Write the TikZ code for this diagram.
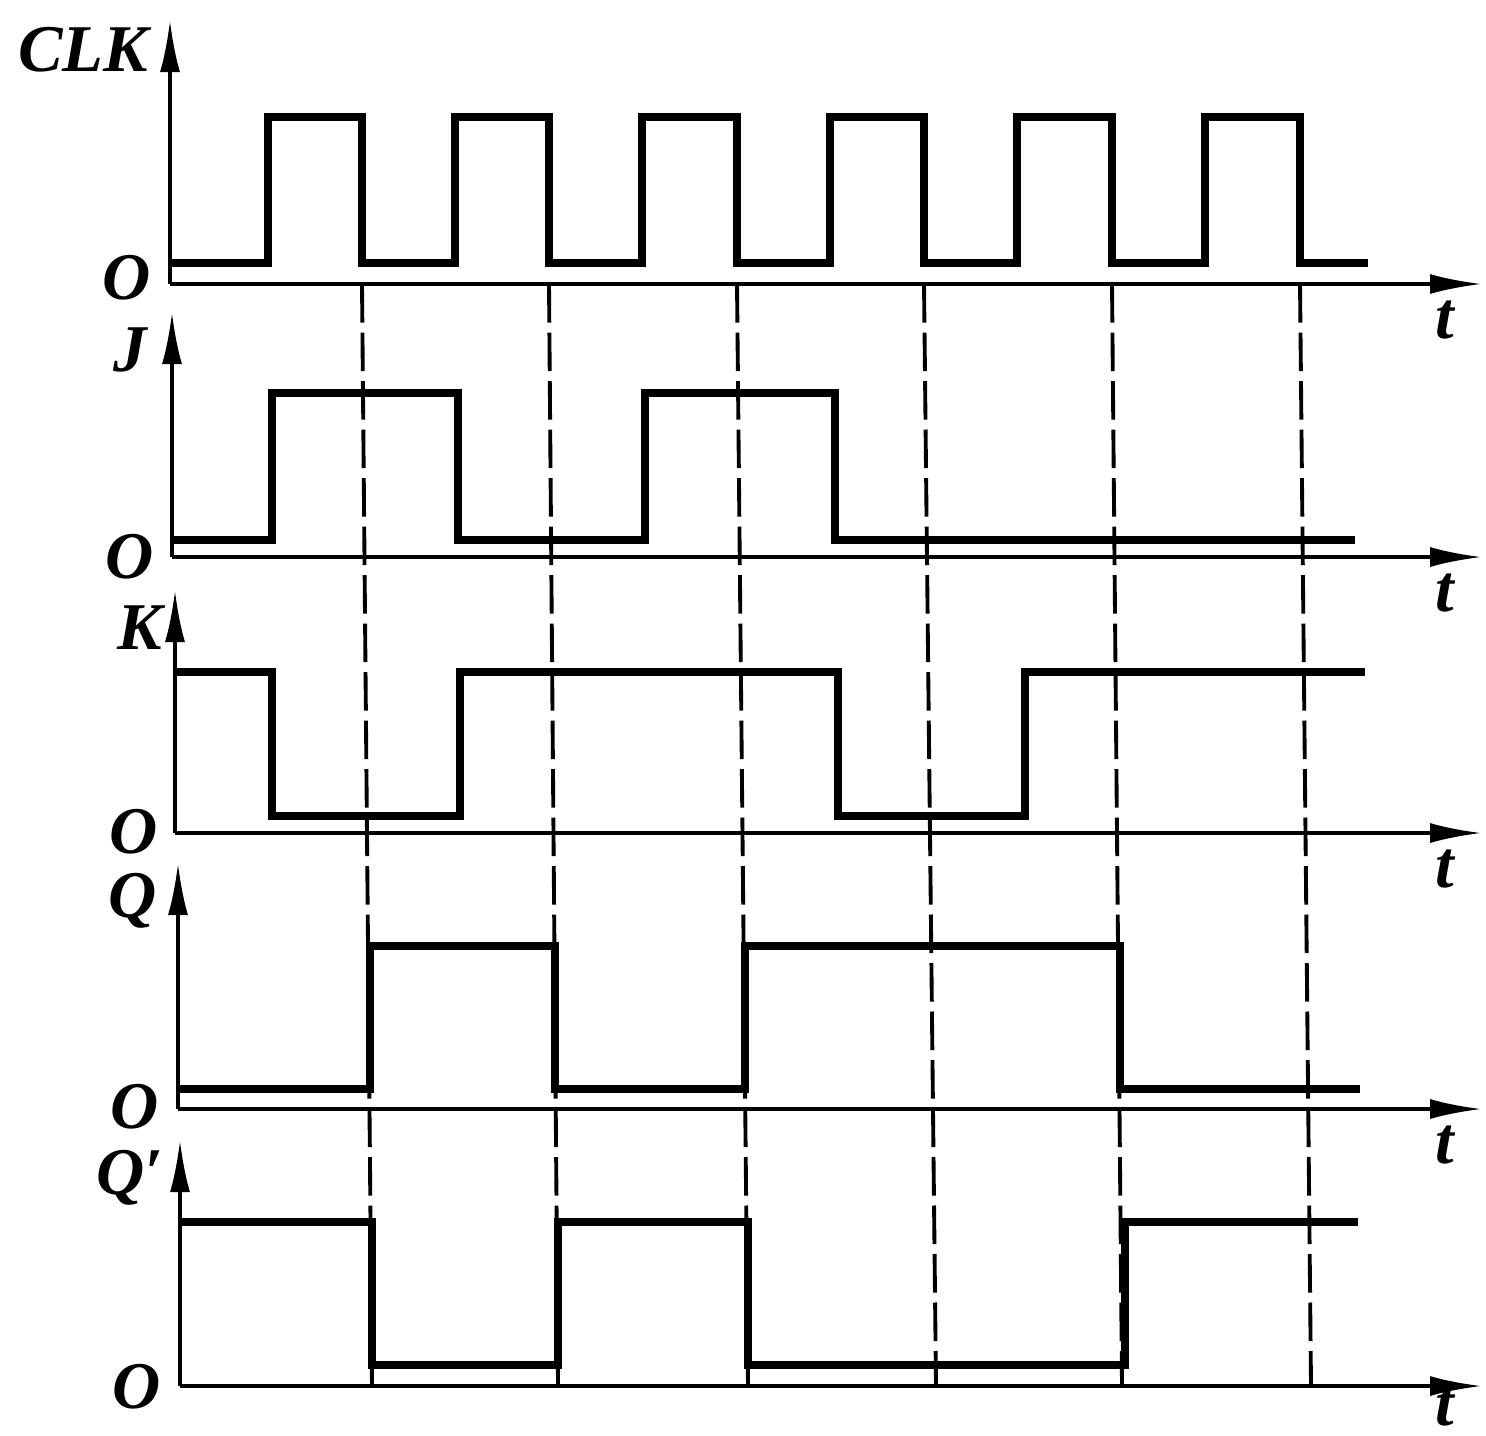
\documentclass[tikz,border=0pt]{standalone}
\usepackage{fontspec}
\setmainfont{Liberation Serif}
\usetikzlibrary{arrows.meta}

\begin{document}
\begin{tikzpicture}[x=0.1mm, y=-0.1mm,
  sig/.style={line width=2.3pt, line join=miter},
  axisline/.style={line width=1.1pt, -{Latex[length=5.2mm,width=2mm]}},
  guide/.style={line width=1.1pt, dash pattern=on 11pt off 2.8pt},
  lbl/.style={font=\fontsize{19}{23}\selectfont\bfseries\itshape,
              inner sep=0pt, anchor=base}]
  \useasboundingbox (0,0) rectangle (1486,1435);
  % axes of the five panels: name/origin x/origin y/top of the arrow
  \foreach \n/\x/\y/\top in {clk/170/284/20, j/172/557/312, k/175/833/590,
                             q/178/1109/863, qb/180/1386/1140} {
    \coordinate (o-\n) at (\x,\y);
    \coordinate (up-\n) at (\x,\top);
    \coordinate (end-\n) at (1482,\y);
    \draw[axisline] (o-\n) -- (up-\n);
    \draw[axisline] (o-\n) -- (end-\n);
  }
  \foreach \n/\ty in {clk/338, j/611, k/887, q/1163, qb/1425}
    \node[lbl] (t-\n) at (1445,\ty) {t};
  % dashed guides at the falling clock edges
  \foreach \a/\b in {362/372, 549/558, 737/748, 924/936, 1112/1122, 1300/1311}
    \draw[guide] (\a,284) -- (\b,1386);
  % CLK
  \draw[sig] (172,263)
    \foreach \r/\f in {268/362, 455/549, 642/737, 830/924, 1017/1112, 1205/1300} {
      -- (\r,263) -- (\r,117) -- (\f,117) -- (\f,263) } -- (1368,263);
  % J
  \draw[sig] (174,540) -- (272,540) -- (272,393) -- (458,393) -- (458,540)
    -- (645,540) -- (645,393) -- (835,393) -- (835,540) -- (1355,540);
  % K
  \draw[sig] (177,672) -- (272,672) -- (272,816) -- (460,816) -- (460,672)
    -- (838,672) -- (838,816) -- (1025,816) -- (1025,672) -- (1365,672);
  % Q
  \draw[sig] (180,1089) -- (370,1089) -- (370,946) -- (555,946) -- (555,1089)
    -- (745,1089) -- (745,946) -- (1120,946) -- (1120,1089) -- (1360,1089);
  % Q'
  \draw[sig] (182,1222) -- (372,1222) -- (372,1365) -- (558,1365) -- (558,1222)
    -- (748,1222) -- (748,1365) -- (1125,1365) -- (1125,1222) -- (1358,1222);
  % labels
  \node[lbl] (n-clk) at (83,71) {CLK};
  \node[lbl] (n-j) at (130,371) {J};
  \node[lbl] (n-k) at (140,649) {K};
  \node[lbl] (n-q) at (133,917) {Q};
  \node[lbl] (n-qb) at (130,1194) {Q′};
  \node[lbl] (z-clk) at (127,299) {O};
  \node[lbl] (z-j) at (130,578) {O};
  \node[lbl] (z-k) at (134,853) {O};
  \node[lbl] (z-q) at (135,1128) {O};
  \node[lbl] (z-qb) at (137,1408) {O};
\end{tikzpicture}
\end{document}
